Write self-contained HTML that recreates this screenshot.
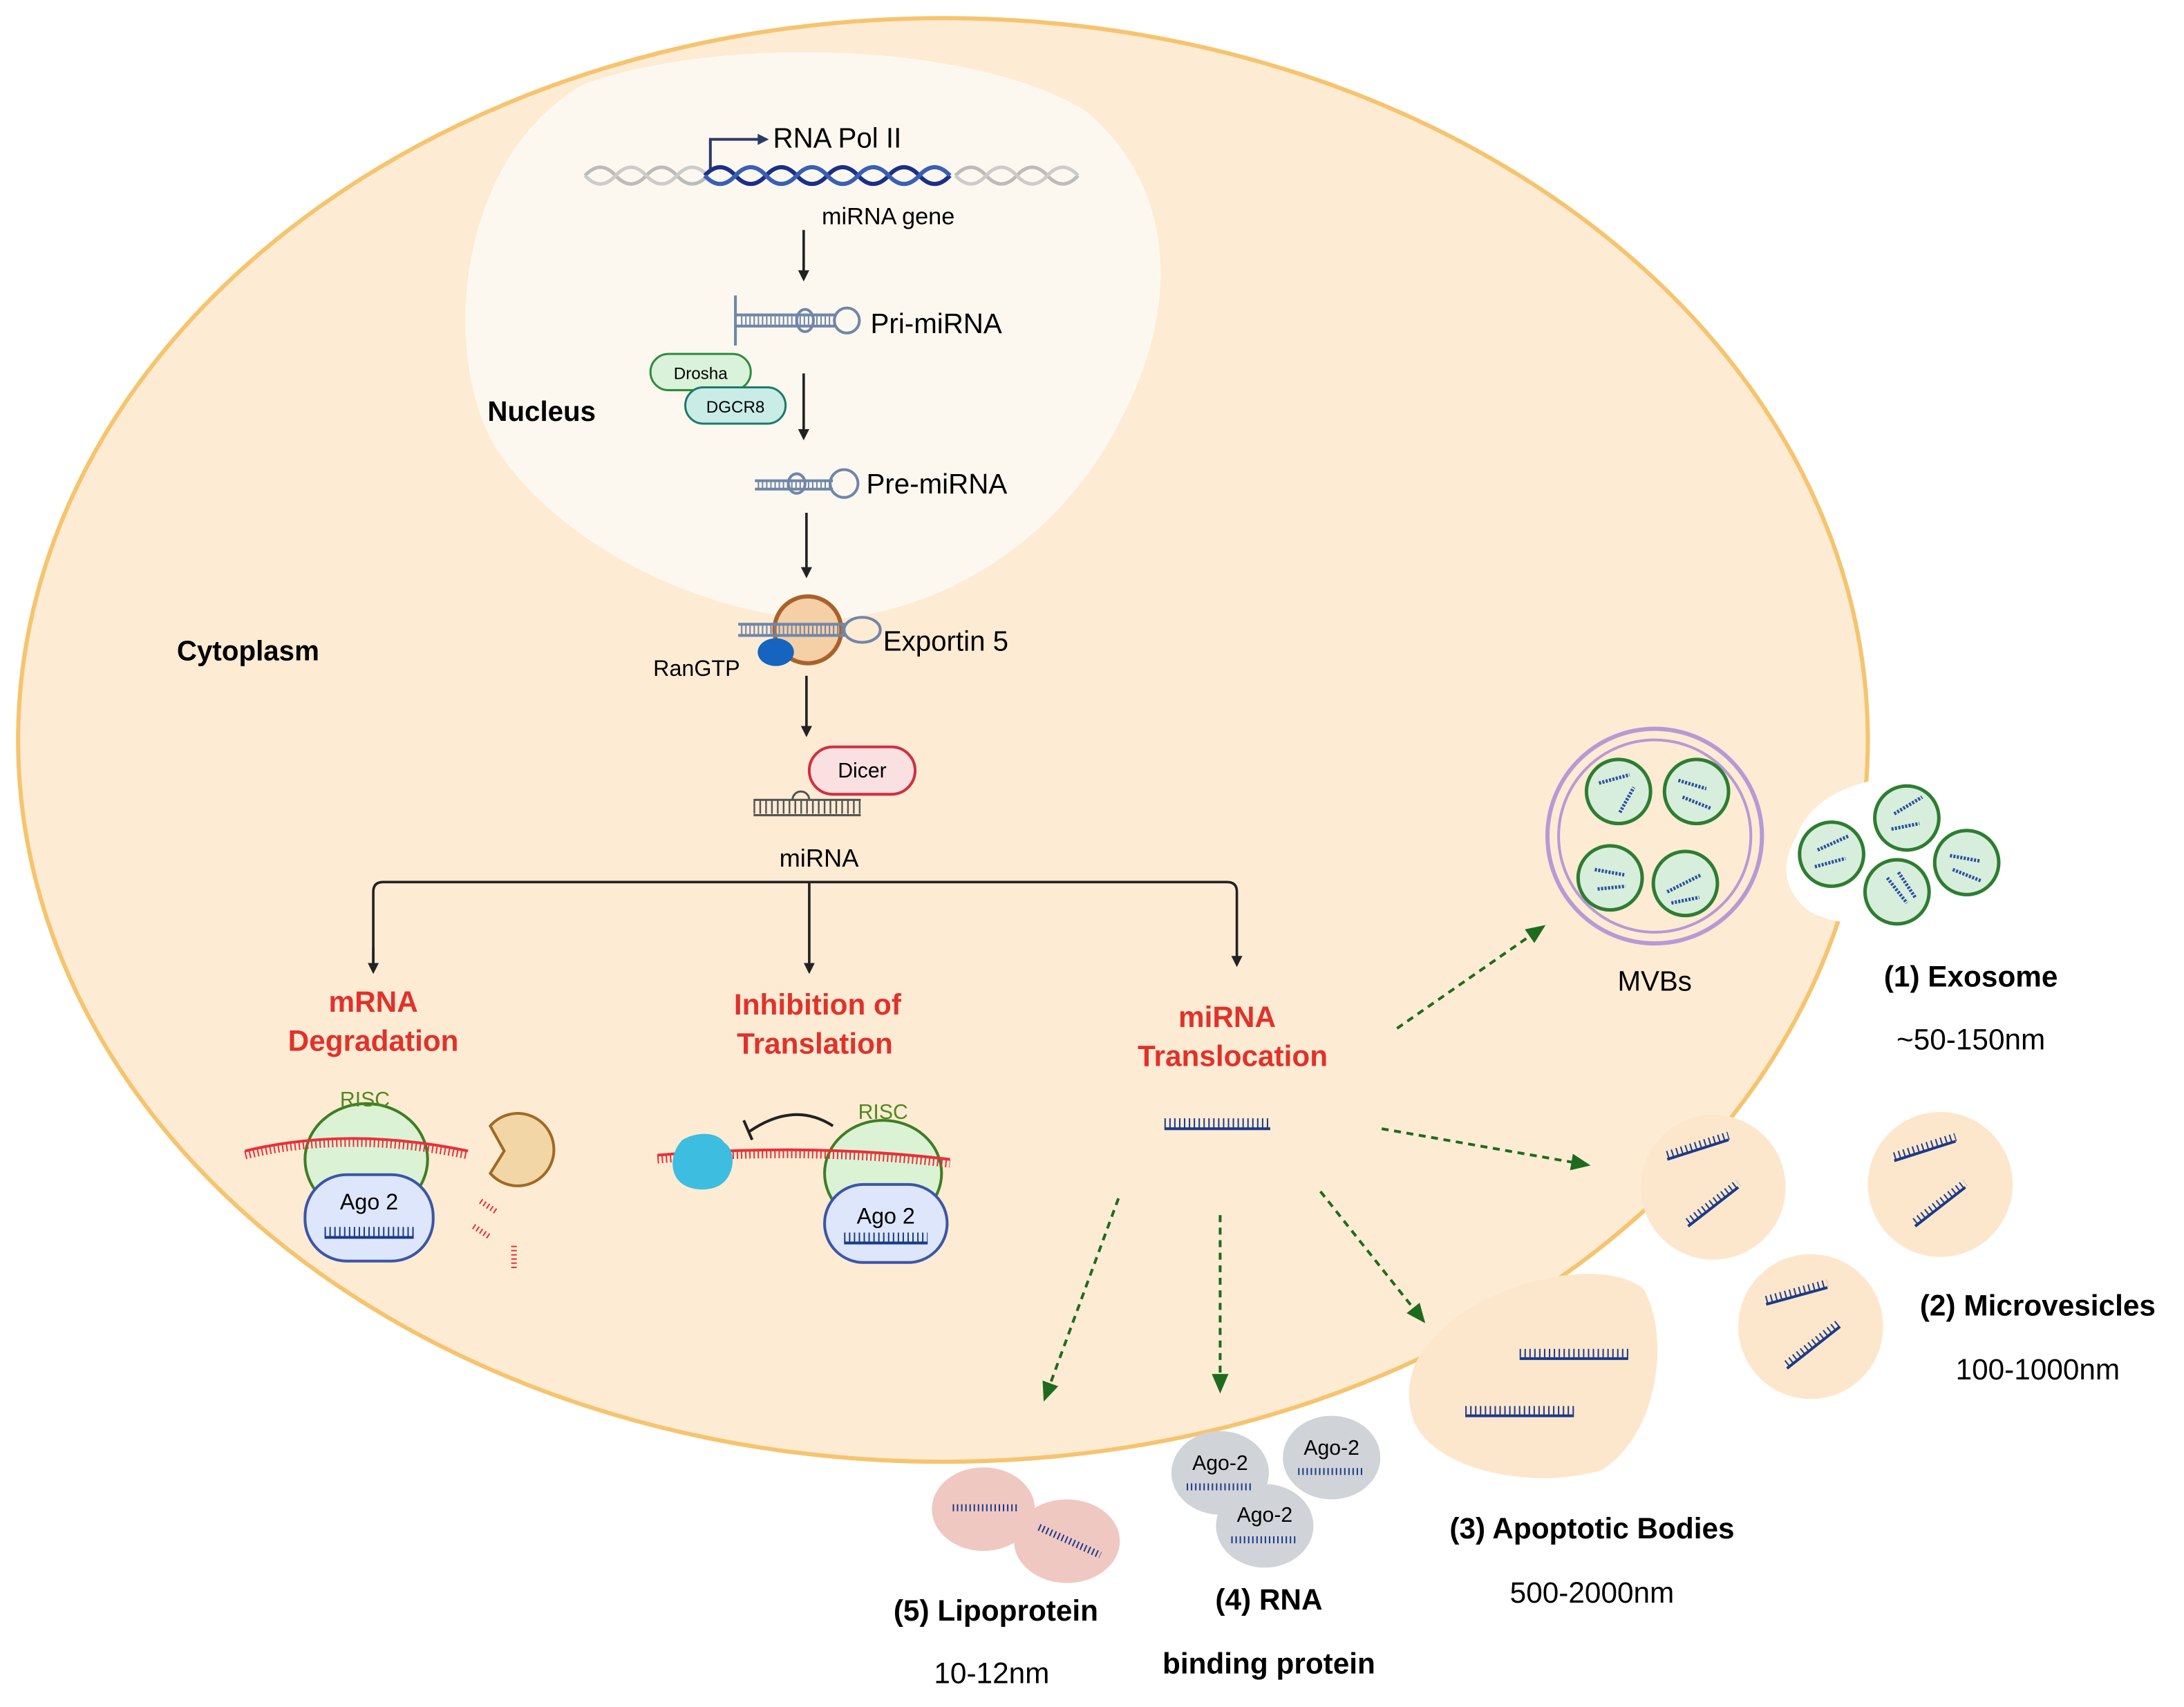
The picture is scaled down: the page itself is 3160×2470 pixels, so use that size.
<!DOCTYPE html>
<html><head><meta charset="utf-8"><style>
html,body{margin:0;padding:0;background:#fff;}
svg{display:block;}
text{font-family:"Liberation Sans",sans-serif;}
</style></head><body>
<svg width="3160" height="2470" viewBox="0 0 1568 1225" preserveAspectRatio="none" xmlns="http://www.w3.org/2000/svg">
<defs>
<marker id="ab" markerWidth="8" markerHeight="8" refX="6" refY="4" orient="auto" markerUnits="userSpaceOnUse"><path d="M0,0 L8,4 L0,8 z" fill="#222"/></marker>
<marker id="ag" markerWidth="14" markerHeight="12" refX="12" refY="6" orient="auto" markerUnits="userSpaceOnUse"><path d="M0,0 L14,6 L0,12 z" fill="#1e6b1e"/></marker>
</defs>
<rect width="1568" height="1225" fill="#fff"/>
<ellipse cx="677" cy="531" rx="664" ry="518" fill="#fdebd3" stroke="#f6c46e" stroke-width="3"/>
<path d="M1290,600 C1300,570 1340,555 1380,558 C1430,560 1450,590 1445,625 C1440,655 1400,668 1360,665 C1320,663 1300,660 1290,645 C1278,630 1282,612 1290,600z" fill="#fff"/>
<path d="M420,60 C520,25 700,30 780,80 C850,140 845,230 800,310 C760,385 680,440 590,445 C500,440 400,390 355,320 C315,250 330,110 420,60z" fill="#fdf8ef"/>
<g fill="none" stroke-width="2.5">
<path d="M420,126 q11,-12 22,0 t22,0 t22,0 t22,0" stroke="#bbb"/><path d="M420,126 q11,12 22,0 t22,0 t22,0 t22,0" stroke="#ccc"/>
<path d="M686,126 q11,-12 22,0 t22,0 t22,0 t22,0" stroke="#bbb"/><path d="M686,126 q11,12 22,0 t22,0 t22,0 t22,0" stroke="#ccc"/>
<path d="M506,126 q11,-12 22,0 t22,0 t22,0 t22,0 t22,0 t22,0 t22,0 t22,0" stroke="#1a2f8a" stroke-width="3"/>
<path d="M506,126 q11,12 22,0 t22,0 t22,0 t22,0 t22,0 t22,0 t22,0 t22,0" stroke="#3a5fb5" stroke-width="3"/>
<path d="M510,122 v-22 h36" stroke="#2a3a6a" stroke-width="2"/>
</g>
<path d="M544,96 l8,4 l-8,4z" fill="#2a3a6a"/>
<text x="555" y="106" font-size="20">RNA Pol II</text>
<text x="590" y="161" font-size="17">miRNA gene</text>
<g stroke="#6f86aa" fill="none" stroke-width="2">
<line x1="528" y1="212" x2="528" y2="248"/>
<path d="M528,226 H600 M528,234 H600" /><path d="M532,230 H598" stroke-dasharray="1 2" stroke-width="6"/>
<circle cx="608" cy="230" r="9"/><ellipse cx="578" cy="230" rx="6" ry="8"/>
<path d="M542,345 H598 M542,351 H598"/><path d="M544,348 H596" stroke-dasharray="1 2" stroke-width="6"/>
<circle cx="606" cy="347" r="10"/><ellipse cx="572" cy="347" rx="6" ry="7"/>
</g>
<text x="625" y="239" font-size="20">Pri-miRNA</text>
<text x="622" y="354" font-size="20">Pre-miRNA</text>
<rect x="467" y="254" width="72" height="26" rx="13" fill="#d9f2d9" stroke="#2e8b3e" stroke-width="1.5"/>
<text x="503" y="272" font-size="12" text-anchor="middle">Drosha</text>
<rect x="492" y="278" width="72" height="26" rx="13" fill="#c9ece6" stroke="#1d7a6a" stroke-width="1.5"/>
<text x="528" y="296" font-size="12" text-anchor="middle">DGCR8</text>
<text x="350" y="302" font-size="20" font-weight="bold">Nucleus</text>
<text x="127" y="474" font-size="20" font-weight="bold">Cytoplasm</text>
<g stroke="#222" stroke-width="1.8" marker-end="url(#ab)">
<line x1="577" y1="165" x2="577" y2="200"/>
<line x1="577" y1="268" x2="577" y2="314"/>
<line x1="579" y1="368" x2="579" y2="413"/>
<line x1="579" y1="485" x2="579" y2="527"/>
</g>
<circle cx="580" cy="452" r="24" fill="#f5cfa5" stroke="#a8622a" stroke-width="3"/>
<g stroke="#6f86aa" fill="none" stroke-width="2"><path d="M530,448 H608 M530,456 H608"/><path d="M532,452 H606" stroke-dasharray="1 2" stroke-width="6"/><ellipse cx="619" cy="452" rx="13" ry="9"/></g>
<ellipse cx="557" cy="468" rx="13" ry="10" fill="#1565c0"/>
<text x="634" y="467" font-size="20">Exportin 5</text>
<text x="469" y="485" font-size="16">RanGTP</text>
<rect x="581" y="536" width="76" height="34" rx="17" fill="#fbe0e2" stroke="#d03040" stroke-width="2"/>
<text x="619" y="558" font-size="15" text-anchor="middle">Dicer</text>
<g stroke="#555" fill="none" stroke-width="1.5"><path d="M541,574 H618 M541,585 H618"/><path d="M541,579 H618" stroke-dasharray="1.2 3" stroke-width="10"/><path d="M569,574 a6,6 0 0 1 12,0"/></g>
<text x="588" y="622" font-size="18" text-anchor="middle">miRNA</text>
<g stroke="#222" stroke-width="1.8" fill="none">
<path d="M268,694 V640 Q268,633 275,633 H881 Q888,633 888,640 V692" marker-end="url(#ab)"/>
<line x1="268" y1="680" x2="268" y2="697" marker-end="url(#ab)"/>
<line x1="581" y1="633" x2="581" y2="697" marker-end="url(#ab)"/>
</g>
<g fill="#e0322c" font-size="21" font-weight="bold" text-anchor="middle">
<text x="268" y="726">mRNA</text><text x="268" y="754">Degradation</text>
<text x="587" y="728">Inhibition of</text><text x="585" y="756">Translation</text>
<text x="881" y="737">miRNA</text><text x="885" y="765">Translocation</text>
</g>
<ellipse cx="263" cy="832" rx="44" ry="40" fill="#dcf2d4" stroke="#3e7d25" stroke-width="2"/>
<text x="262" y="794" font-size="15" fill="#4e8a1e" text-anchor="middle">RISC</text>
<path d="M176,826 Q250,808 336,826" stroke="#e8303a" stroke-width="2" fill="none"/>
<path d="M176,829 Q250,811 336,829" stroke="#e8303a" stroke-width="6" stroke-dasharray="1 2" fill="none"/>
<rect x="219" y="843" width="92" height="62" rx="30" fill="#dde6fb" stroke="#3b55a8" stroke-width="2"/>
<text x="265" y="868" font-size="16" text-anchor="middle">Ago 2</text>
<path d="M233,888 H297" stroke="#1a3a8a" stroke-width="2"/><path d="M233,884 H297" stroke="#1a3a8a" stroke-width="7" stroke-dasharray="1 2.5"/>
<path d="M352,808 A26,26 0 1 1 352,842 L362,826 L352,808z" fill="#f3d6a5" stroke="#a06a24" stroke-width="2"/>
<g stroke="#e8303a" stroke-width="4" stroke-dasharray="1 2"><path d="M345,862 l12,8"/><path d="M340,880 l12,8"/><path d="M369,894 v16"/></g>
<ellipse cx="634" cy="842" rx="42" ry="38" fill="#dcf2d4" stroke="#3e7d25" stroke-width="2"/>
<text x="634" y="803" font-size="15" fill="#4e8a1e" text-anchor="middle">RISC</text>
<path d="M472,829 Q580,820 682,832" stroke="#e8303a" stroke-width="2" fill="none"/>
<path d="M472,832 Q580,823 682,835" stroke="#e8303a" stroke-width="6" stroke-dasharray="1 2" fill="none"/>
<path d="M490,818 C500,812 515,812 520,820 C528,825 528,840 520,848 C512,856 495,855 488,848 C480,840 482,826 490,818z" fill="#3dbde0"/>
<path d="M598,808 Q570,790 538,812" stroke="#222" stroke-width="2" fill="none"/><path d="M534,804 l6,14" stroke="#222" stroke-width="2"/>
<rect x="592" y="850" width="88" height="56" rx="28" fill="#dde6fb" stroke="#3b55a8" stroke-width="2"/>
<text x="636" y="878" font-size="16" text-anchor="middle">Ago 2</text>
<path d="M606,892 H666" stroke="#1a3a8a" stroke-width="2"/><path d="M606,888 H666" stroke="#1a3a8a" stroke-width="7" stroke-dasharray="1 2.5"/>
<path d="M836,810 H912" stroke="#1a3a8a" stroke-width="2"/><path d="M836,806 H912" stroke="#1a3a8a" stroke-width="7" stroke-dasharray="1 2.5"/>
<g stroke="#1e6b1e" stroke-width="2" stroke-dasharray="5 4" fill="none" marker-end="url(#ag)">
<line x1="1003" y1="738" x2="1108" y2="665"/>
<line x1="992" y1="810" x2="1140" y2="836"/>
<line x1="948" y1="855" x2="1022" y2="948"/>
<line x1="876" y1="872" x2="876" y2="998"/>
<line x1="803" y1="860" x2="750" y2="1004"/>
</g>
<circle cx="1188" cy="600" r="77" fill="none" stroke="#b69ad6" stroke-width="3"/>
<circle cx="1188" cy="600" r="69" fill="none" stroke="#b69ad6" stroke-width="2"/>
<g fill="#d8eedc" stroke="#2e7d32" stroke-width="2.5">
<circle cx="1162" cy="568" r="23"/><circle cx="1218" cy="568" r="23"/><circle cx="1156" cy="630" r="23"/><circle cx="1210" cy="634" r="23"/>
<circle cx="1315" cy="613" r="23"/><circle cx="1369" cy="587" r="23"/><circle cx="1412" cy="619" r="23"/><circle cx="1362" cy="640" r="23"/>
</g>
<g stroke="#2a4fa0" stroke-width="2.5" stroke-dasharray="1.5 1">
<path d="M1148,562 l22,-6 M1163,583 l10,-18 M1205,560 l20,6 M1208,572 l20,8 M1145,624 l22,4 M1147,638 l20,-2 M1197,640 l24,-12 M1200,648 l20,-4 M1305,610 l22,-10 M1303,622 l22,-6 M1360,584 l20,-12 M1358,595 l20,-4 M1400,614 l22,4 M1402,624 l20,8 M1355,630 l14,18 M1363,626 l12,18"/>
</g>
<text x="1188" y="711" font-size="20" text-anchor="middle">MVBs</text>
<text x="1415" y="708" font-size="21" font-weight="bold" text-anchor="middle">(1) Exosome</text>
<text x="1415" y="753" font-size="21" text-anchor="middle">~50-150nm</text>
<g fill="#fde7cc"><circle cx="1230" cy="852" r="52"/><circle cx="1393" cy="850" r="52"/><circle cx="1300" cy="952" r="52"/>
<path d="M1025,965 C1060,920 1150,900 1180,925 C1200,960 1190,1030 1150,1055 C1100,1070 1030,1055 1015,1020 C1008,1000 1012,980 1025,965z"/></g>
<g stroke="#1a3a8a" stroke-width="2"><path d="M1197,832 l44,-14 M1212,880 l36,-28 M1360,833 l44,-14 M1375,880 l36,-28 M1268,936 l44,-12 M1283,982 l38,-30 M1091,975 h78 M1052,1016 h78"/></g>
<g stroke="#1a3a8a" stroke-width="6" stroke-dasharray="1 2.5"><path d="M1197,829 l44,-14 M1212,877 l36,-28 M1360,830 l44,-14 M1375,877 l36,-28 M1268,933 l44,-12 M1283,979 l38,-30 M1091,971 h78 M1052,1012 h78"/></g>
<text x="1463" y="944" font-size="21" font-weight="bold" text-anchor="middle">(2) Microvesicles</text>
<text x="1463" y="990" font-size="21" text-anchor="middle">100-1000nm</text>
<text x="1143" y="1104" font-size="21" font-weight="bold" text-anchor="middle">(3) Apoptotic Bodies</text>
<text x="1143" y="1150" font-size="21" text-anchor="middle">500-2000nm</text>
<g fill="#d0d3d8"><ellipse cx="876" cy="1057" rx="35" ry="30"/><ellipse cx="956" cy="1046" rx="35" ry="30"/><ellipse cx="908" cy="1095" rx="35" ry="30"/></g>
<g font-size="15" text-anchor="middle"><text x="876" y="1055">Ago-2</text><text x="956" y="1044">Ago-2</text><text x="908" y="1092">Ago-2</text></g>
<g stroke="#1a3a8a" stroke-width="5" stroke-dasharray="1 2"><path d="M852,1067 h48 M932,1056 h48 M884,1105 h48"/></g>
<text x="911" y="1155" font-size="21" font-weight="bold" text-anchor="middle">(4) RNA</text>
<text x="911" y="1201" font-size="21" font-weight="bold" text-anchor="middle">binding protein</text>
<g fill="#f0c8c2"><ellipse cx="706" cy="1083" rx="37" ry="30"/><ellipse cx="766" cy="1106" rx="38" ry="30"/></g>
<g stroke="#1a3a8a" stroke-width="5" stroke-dasharray="1 2"><path d="M684,1082 h48 M746,1096 l44,20"/></g>
<text x="715" y="1163" font-size="21" font-weight="bold" text-anchor="middle">(5) Lipoprotein</text>
<text x="712" y="1208" font-size="21" text-anchor="middle">10-12nm</text>
</svg>
</body></html>
